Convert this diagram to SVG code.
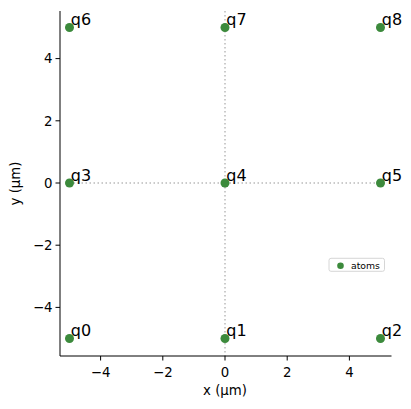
<svg xmlns="http://www.w3.org/2000/svg" width="411" height="409" viewBox="0 0 411 409">
<style>
text{font-family:"DejaVu Sans",sans-serif;fill:#000}
.tick{font-size:13.3px}
.lbl{font-size:16px}
.axl{font-size:13.3px}
.ax{stroke:#000;stroke-width:1;fill:none}
.guide{stroke:#bbbbbb;stroke-width:1.5;stroke-dasharray:1.5,2.5;fill:none}
.atom{fill:#3c8a3c}
</style>
<rect width="411" height="409" fill="#fff"/>
<g id="connectors">
<line class="guide" x1="225" y1="11" x2="225" y2="356"/>
<line class="guide" x1="69.5" y1="183" x2="380.5" y2="183"/>
</g>
<g id="axes">
<line class="ax" x1="60" y1="11" x2="60" y2="356"/>
<line class="ax" x1="60" y1="356" x2="391.5" y2="356"/>
<g class="ax">
<line x1="100.6" y1="356" x2="100.6" y2="360.5"/>
<line x1="162.8" y1="356" x2="162.8" y2="360.5"/>
<line x1="225" y1="356" x2="225" y2="360.5"/>
<line x1="287.2" y1="356" x2="287.2" y2="360.5"/>
<line x1="349.4" y1="356" x2="349.4" y2="360.5"/>
<line x1="55.5" y1="58.6" x2="60" y2="58.6"/>
<line x1="55.5" y1="120.8" x2="60" y2="120.8"/>
<line x1="55.5" y1="183" x2="60" y2="183"/>
<line x1="55.5" y1="245.2" x2="60" y2="245.2"/>
<line x1="55.5" y1="307.4" x2="60" y2="307.4"/>
</g>
<g class="tick" text-anchor="middle">
<text x="100.6" y="377">−4</text>
<text x="162.8" y="377">−2</text>
<text x="225" y="377">0</text>
<text x="287.2" y="377">2</text>
<text x="349.4" y="377">4</text>
</g>
<g class="tick" text-anchor="end">
<text x="52.5" y="63.4">4</text>
<text x="52.5" y="125.6">2</text>
<text x="52.5" y="187.8">0</text>
<text x="52.5" y="250">−2</text>
<text x="52.5" y="312.2">−4</text>
</g>
<text class="axl" x="225" y="395" text-anchor="middle">x (µm)</text>
<text class="axl" transform="translate(19.5,183.5) rotate(-90)" text-anchor="middle">y (µm)</text>
</g>
<g id="q0"><circle class="atom" cx="69.5" cy="338.5" r="4.5"/><text class="lbl" x="70.8" y="336">q0</text></g>
<g id="q1"><circle class="atom" cx="225" cy="338.5" r="4.5"/><text class="lbl" x="226.3" y="336">q1</text></g>
<g id="q2"><circle class="atom" cx="380.5" cy="338.5" r="4.5"/><text class="lbl" x="381.8" y="336">q2</text></g>
<g id="q3"><circle class="atom" cx="69.5" cy="183" r="4.5"/><text class="lbl" x="70.8" y="180.5">q3</text></g>
<g id="q4"><circle class="atom" cx="225" cy="183" r="4.5"/><text class="lbl" x="226.3" y="180.5">q4</text></g>
<g id="q5"><circle class="atom" cx="380.5" cy="183" r="4.5"/><text class="lbl" x="381.8" y="180.5">q5</text></g>
<g id="q6"><circle class="atom" cx="69.5" cy="27.5" r="4.5"/><text class="lbl" x="70.8" y="25">q6</text></g>
<g id="q7"><circle class="atom" cx="225" cy="27.5" r="4.5"/><text class="lbl" x="226.3" y="25">q7</text></g>
<g id="q8"><circle class="atom" cx="380.5" cy="27.5" r="4.5"/><text class="lbl" x="381.8" y="25">q8</text></g>
<g id="legend">
<rect x="329" y="258.3" width="55.5" height="13" rx="2" fill="#fff" fill-opacity="0.8" stroke="#cccccc" stroke-width="0.8"/>
<circle class="atom" cx="340.5" cy="265.8" r="3.3"/>
<text x="351" y="268.8" style="font-size:9.3px">atoms</text>
</g>
</svg>
